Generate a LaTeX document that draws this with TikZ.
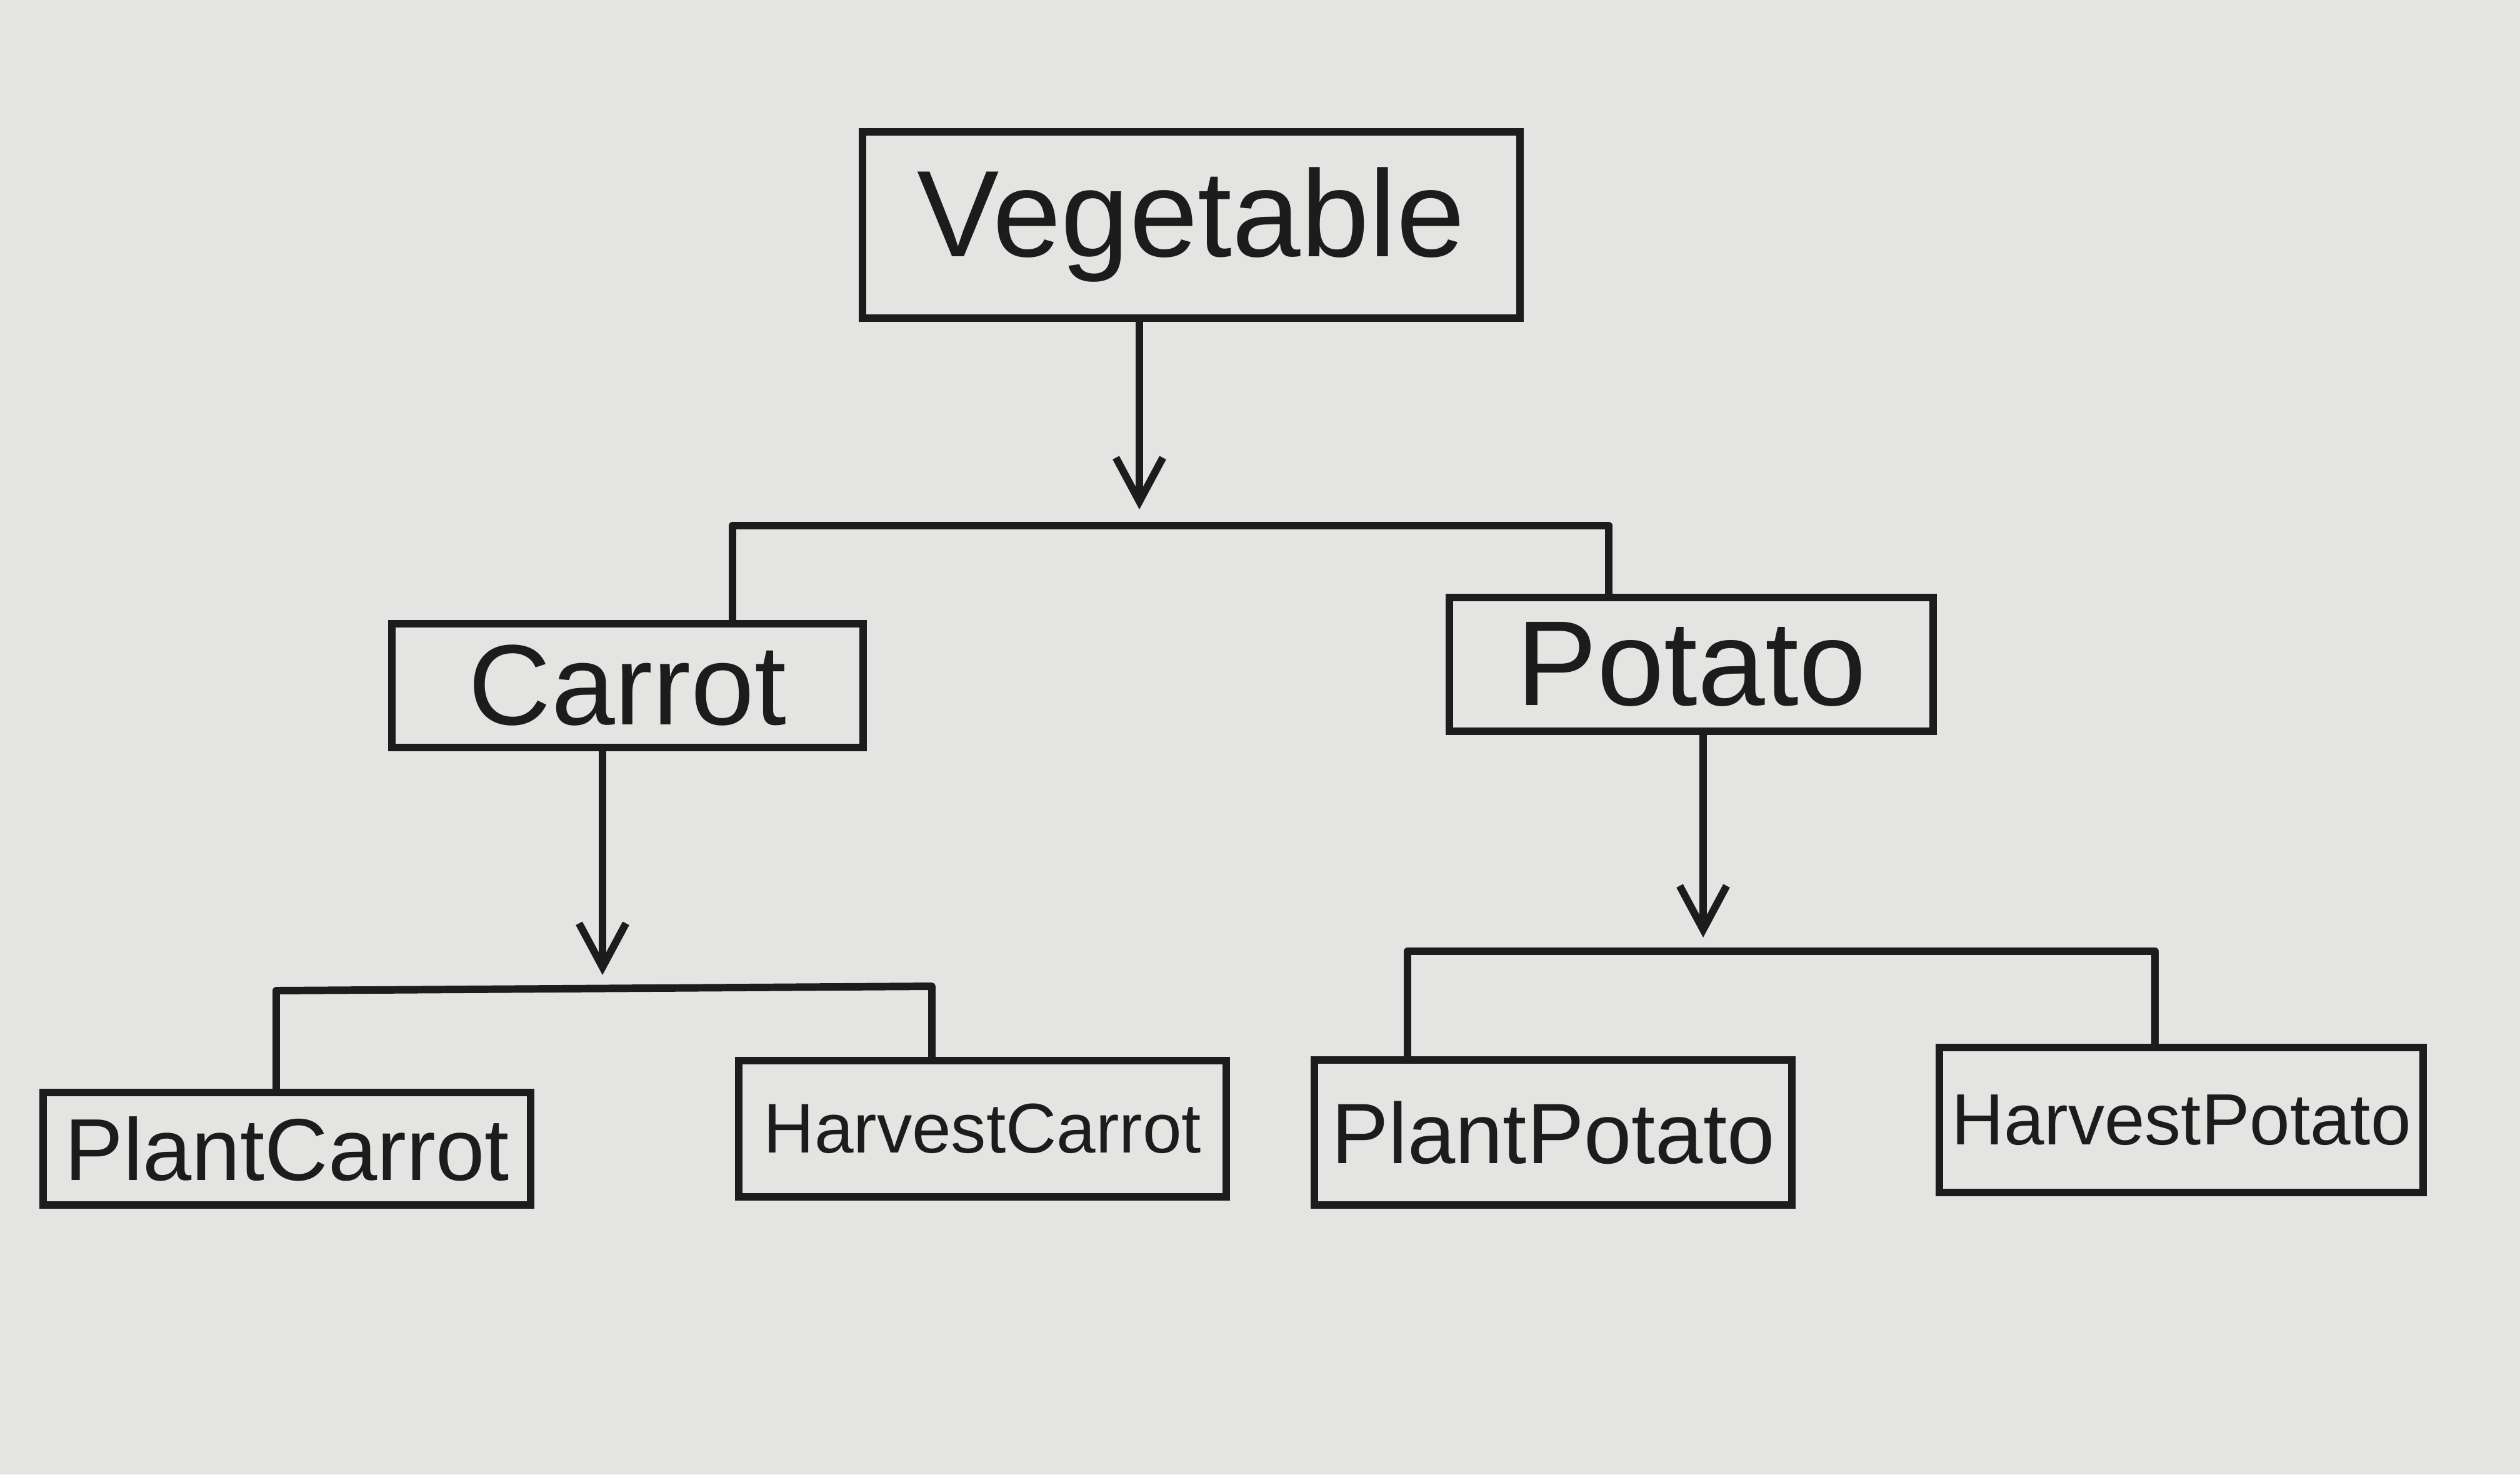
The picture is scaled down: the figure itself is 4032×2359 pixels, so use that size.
\documentclass[tikz,border=0pt]{standalone}
\usepackage{fontspec}
\setmainfont{Liberation Sans}
\usetikzlibrary{arrows.meta}
\definecolor{paper}{HTML}{E4E4E2}
\definecolor{ink}{HTML}{1C1C1C}
\tikzset{
  box/.style={draw=ink, text=ink, line width=3.4pt, inner sep=0pt, anchor=center},
  link/.style={draw=ink, line width=3.4pt, line cap=round, line join=round},
  arr/.style={link, -{Straight Barb[length=0.7cm, width=0.75cm, line width=3.4pt]}}
}
\begin{document}
\begin{tikzpicture}[x=0.01cm, y=-0.01cm]
\fill[paper] (0,0) rectangle (4032,2359);
\useasboundingbox (0,0) rectangle (4032,2359);

\node[box, minimum width=10.51cm, minimum height=2.98cm, font=\fontsize{56}{60}\selectfont] (veg) at (1906,360) {Vegetable};
\node[box, minimum width=7.54cm, minimum height=1.98cm, font=\fontsize{52}{56}\selectfont] (carrot) at (1004,1097) {Carrot};
\node[box, minimum width=7.74cm, minimum height=2.14cm, font=\fontsize{55}{59}\selectfont] (potato) at (2706,1063) {Potato};
\node[box, minimum width=7.80cm, minimum height=1.80cm, font=\fontsize{40}{44}\selectfont] (plantc) at (459,1838) {PlantCarrot};
\node[box, minimum width=7.79cm, minimum height=2.18cm, font=\fontsize{32}{36}\selectfont] (harvc) at (1572,1806) {HarvestCarrot};
\node[box, minimum width=7.64cm, minimum height=2.31cm, font=\fontsize{39}{43}\selectfont] (plantp) at (2485,1812) {PlantPotato};
\node[box, minimum width=7.74cm, minimum height=2.32cm, font=\fontsize{33}{37}\selectfont] (harvp) at (3490,1792) {HarvestPotato};

% Vegetable -> Carrot / Potato
\coordinate (t1) at (1823,815);
\coordinate (b1l) at (1172,841);
\coordinate (b1r) at (2574,841);
\draw[arr] (veg.south -| t1) -- (t1);
\draw[link] (carrot.north -| b1l) -- (b1l) -- (b1r) -- (potato.north -| b1r);

% Carrot -> PlantCarrot / HarvestCarrot
\coordinate (t2) at (964,1560);
\coordinate (b2l) at (442,1585);
\coordinate (b2r) at (1491,1578);
\draw[arr] (carrot.south -| t2) -- (t2);
\draw[link] (plantc.north -| b2l) -- (b2l) -- (b2r) -- (harvc.north -| b2r);

% Potato -> PlantPotato / HarvestPotato
\coordinate (t3) at (2725,1500);
\coordinate (b3l) at (2252,1522);
\coordinate (b3r) at (3448,1522);
\draw[arr] (potato.south -| t3) -- (t3);
\draw[link] (plantp.north -| b3l) -- (b3l) -- (b3r) -- (harvp.north -| b3r);
\end{tikzpicture}
\end{document}
